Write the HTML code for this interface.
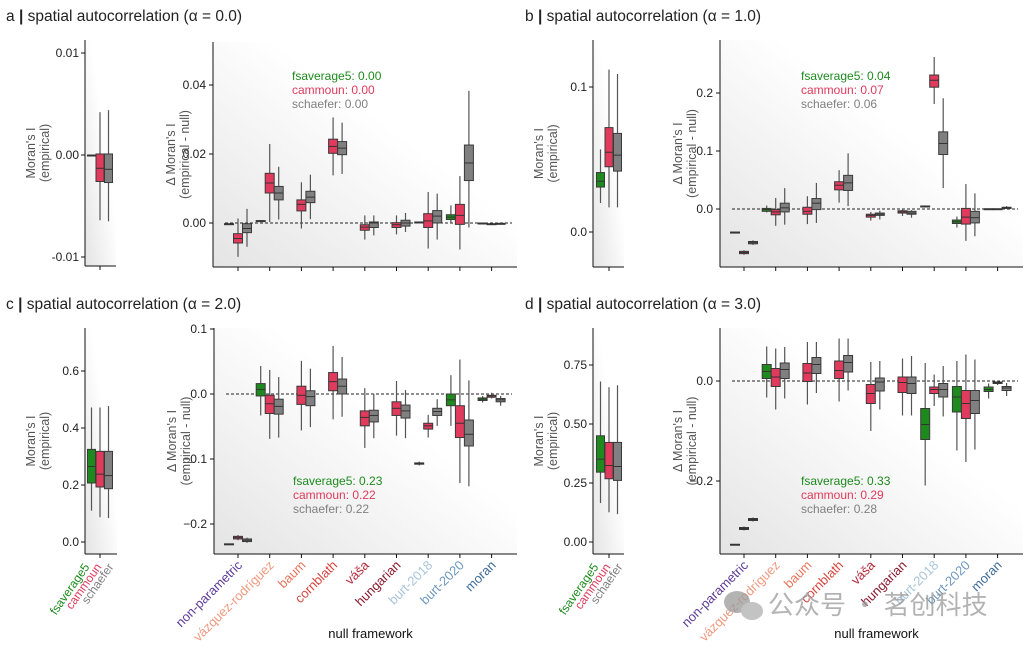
<!DOCTYPE html>
<html><head><meta charset="utf-8"><style>
html,body{margin:0;padding:0;background:#fff;}
svg{display:block;font-family:"Liberation Sans","Noto Sans CJK SC",sans-serif;}
</style></head><body>
<svg id="fig" width="1032" height="648" viewBox="0 0 1032 648" xmlns="http://www.w3.org/2000/svg">
<defs>
<linearGradient id="bg" x1="0" y1="1" x2="1" y2="0">
<stop offset="0" stop-color="#e4e4e4"/><stop offset="0.6" stop-color="#ffffff"/>
</linearGradient>
</defs>
<g id="layer"></g>
<g opacity="0.75">
<ellipse cx="737" cy="602" rx="13" ry="11" fill="#9a9a9a"/>
<ellipse cx="752" cy="611" rx="11" ry="9" fill="#b0b0b0"/>
<text x="768" y="614" font-size="26" fill="#9a9a9a" font-family="'Noto Sans CJK SC',sans-serif">公众号 · 茗创科技</text>
</g>
</svg>
<script>
const categories = ["non-parametric","vázquez-rodríguez","baum","cornblath","váša","hungarian","burt-2018","burt-2020","moran"];
const catColors = ["#5b3a97","#f09a80","#e8735a","#d6453d","#b5293b","#8b1a2e","#a8c4da","#6d98bf","#3d6a9a"];
const parcNames = ["fsaverage5","cammoun","schaefer"];
const parcColors = ["#1e8a1e","#e03a5c","#808080"];

// panel a (lo, q1, median, q3, hi)
const aFs = [[-.0004,-.0003,-.0003,-.0002,-.0002],[.0004,.0005,.0006,.0007,.0008],null,null,null,null,[0,.0001,.0002,.0003,.0004],[0,.001,.0017,.0024,.0051],[-.0001,0,0,0,.0001]];
const aCam = [[-.0098,-.0058,-.0045,-.0031,.0013],[.0003,.0087,.0116,.0144,.0229],[-.0016,.0035,.0054,.0067,.0118],[.0138,.0202,.0222,.0243,.0306],[-.0048,-.0021,-.0012,-.0005,.0022],[-.0033,-.0013,-.0005,.0001,.0022],[-.0074,-.0013,.0006,.0027,.009],[-.0077,-.0004,.0022,.0054,.0136],[-.0005,-.0004,-.0003,-.0002,-.0001]];
const aSch = [[-.0069,-.0028,-.0016,-.0002,.0041],[.001,.0067,.0087,.0106,.0163],[.0011,.0059,.0075,.0092,.014],[.0142,.0198,.0217,.0236,.0291],[-.0036,-.0013,0,.0003,.0022],[-.0026,-.0009,0,.0008,.0029],[-.0048,0,.002,.0036,.0085],[-.0013,.0123,.0174,.0226,.0383],[-.0004,-.0003,-.0002,-.0001,0]];
const aEmp = [[-.00015,-.0001,-.00005,0,.00005],[-.0064,-.0026,-.0013,.0001,.0042],[-.0065,-.0027,-.0014,.0001,.0044]];
// panel b
const bFs = [[-.0405,-.0402,-.040,-.0398,-.0395],[-.006,-.004,-.001,.001,.006],null,null,null,null,[.0045,.0048,.005,.0052,.0055],[-.032,-.025,-.022,-.019,-.013],[-.001,0,0,.0005,.001]];
const bCam = [[-.079,-.077,-.075,-.073,-.071],[-.029,-.010,-.005,-.001,.019],[-.026,-.009,-.004,.003,.022],[.011,.033,.041,.047,.067],[-.02,-.014,-.011,-.009,-.005],[-.012,-.007,-.005,-.003,0],[.181,.210,.222,.231,.262],[-.055,-.026,-.014,.001,.043],[-.001,-.0005,0,.0005,.001]];
const bSch = [[-.062,-.06,-.058,-.056,-.054],[-.027,-.005,.002,.010,.036],[-.024,-.001,.01,.018,.045],[.005,.032,.045,.058,.096],[-.018,-.011,-.009,-.007,-.003],[-.015,-.009,-.007,-.004,-.002],[.036,.094,.113,.133,.191],[-.047,-.024,-.015,-.004,.027],[0,.001,.002,.003,.005]];
const bEmp = [[.020,.031,.035,.041,.057],[.017,.045,.055,.072,.112],[.017,.042,.053,.068,.109]];
// panel c
const cFs = [[-.232,-.2315,-.231,-.2305,-.230],[-.033,-.003,.007,.016,.043],null,null,null,null,[-.110,-.108,-.107,-.106,-.104],[-.049,-.018,-.009,0,.029],[-.013,-.010,-.008,-.006,-.003]];
const cCam = [[-.225,-.223,-.221,-.219,-.217],[-.069,-.030,-.015,-.002,.037],[-.056,-.016,-.002,.012,.051],[-.039,.005,.019,.033,.074],[-.083,-.049,-.036,-.026,.009],[-.064,-.033,-.022,-.012,.02],[-.067,-.054,-.049,-.045,-.032],[-.137,-.067,-.045,-.018,.053],[-.007,-.005,-.003,-.002,.002]];
const cSch = [[-.229,-.227,-.225,-.223,-.221],[-.067,-.031,-.019,-.008,.026],[-.051,-.018,-.004,.005,.039],[-.035,0,.012,.023,.057],[-.068,-.043,-.033,-.025,0],[-.068,-.037,-.026,-.017,.006],[-.049,-.033,-.027,-.022,-.008],[-.142,-.080,-.062,-.040,.021],[-.018,-.012,-.009,-.007,-.003]];
const cEmp = [[.110,.207,.265,.325,.472],[.087,.193,.238,.318,.472],[.084,.187,.233,.318,.477]];
// panel d
const dFs = [[-.328,-.3275,-.327,-.3265,-.326],[-.033,.005,.019,.033,.069],null,null,null,null,[-.209,-.117,-.087,-.055,.036],[-.139,-.062,-.032,-.011,.04],[-.035,-.021,-.017,-.012,-.005]];
const dCam = [[-.299,-.297,-.295,-.293,-.291],[-.057,-.011,.008,.025,.065],[-.047,-.001,.016,.035,.078],[-.041,.005,.021,.040,.085],[-.1,-.045,-.025,-.007,.038],[-.069,-.023,-.003,.008,.045],[-.05,-.025,-.017,-.012,.013],[-.162,-.075,-.045,-.019,.053],[-.008,-.005,-.003,-.002,.001]];
const dSch = [[-.281,-.279,-.277,-.275,-.273],[-.035,.005,.023,.036,.068],[-.024,.015,.033,.047,.078],[-.019,.018,.037,.051,.085],[-.057,-.02,-.002,.006,.04],[-.069,-.025,-.005,.008,.05],[-.071,-.032,-.017,-.005,.03],[-.137,-.065,-.039,-.019,.043],[-.03,-.019,-.014,-.011,-.004]];
const dEmp = [[.165,.296,.351,.45,.68],[.126,.268,.324,.422,.656],[.118,.261,.32,.422,.664]];

const aTicks = [0,0.02,0.04], aTickLabels = ["0.00","0.02","0.04"];
const aEmpTicks = [-0.01,0,0.01], aEmpTickLabels = ["-0.01","0.00","0.01"];
const bTicks = [0,0.1,0.2], bTickLabels = ["0.0","0.1","0.2"];
const bEmpTicks = [0,0.1], bEmpTickLabels = ["0.0","0.1"];
const cTicks = [-0.2,-0.1,0,0.1], cTickLabels = ["\u22120.2","\u22120.1","0.0","0.1"];
const cEmpTicks = [0,0.2,0.4,0.6], cEmpTickLabels = ["0.0","0.2","0.4","0.6"];
const dTicks = [-0.2,0], dTickLabels = ["\u22120.2","0.0"];
const dEmpTicks = [0,0.25,0.5,0.75], dEmpTickLabels = ["0.00","0.25","0.50","0.75"];
const aScores = ["0.00","0.00","0.00"], bScores = ["0.04","0.07","0.06"], cScores = ["0.23","0.22","0.22"], dScores = ["0.33","0.29","0.28"];

const NS = "http://www.w3.org/2000/svg";
const layer = document.getElementById("layer");
function mk(tag, attrs, parent, text){
  const e = document.createElementNS(NS, tag);
  for (const k in attrs) e.setAttribute(k, attrs[k]);
  if (text !== undefined) e.textContent = text;
  (parent || layer).appendChild(e);
  return e;
}
function linScale(v0, p0, v1, p1){ return v => p0 + (v - v0) * (p1 - p0) / (v1 - v0); }

function drawBox(g, cx, w, s, y, color, name){
  const grp = mk("g", {}, g);
  
  
  mk("line", {x1:cx, x2:cx, y1:y(s[0]), y2:y(s[4]), stroke:"#555", "stroke-width":1.2}, grp);
  const top = y(s[3]), bot = y(s[1]);
  mk("rect", {x:cx-w/2, y:top, width:w, height:Math.max(bot-top,1), fill:color, stroke:"#3a3a3a", "stroke-width":1}, grp);
  mk("line", {x1:cx-w/2, x2:cx+w/2, y1:y(s[2]), y2:y(s[2]), stroke:"#333", "stroke-width":1}, grp);
}

function panel(p){
  const g = mk("g", {});
  
  
  const t = mk("text", {x:p.titleX, y:p.titleY, "font-size":15.5, fill:"#222"}, g);
  
  
  mk("tspan", {}, t, p.id + " ");
  mk("tspan", {"font-weight":"bold"}, t, "|");
  mk("tspan", {}, t, " spatial autocorrelation (\u03b1 = " + p.alpha + ")");

  // small empirical plot
  const S = p.small;
  const ys = linScale(S.v0, S.p0, S.v1, S.p1);
  const bgS = mk("rect", {x:S.x0, y:S.top, width:S.x1-S.x0, height:S.bottom-S.top, fill:"url(#bg)"}, g);
  
  
  mk("line", {x1:S.x0, x2:S.x0, y1:S.top, y2:S.bottom, stroke:"#111"}, g);
  mk("line", {x1:S.x0, x2:S.x1, y1:S.bottom, y2:S.bottom, stroke:"#111"}, g);
  mk("line", {x1:S.tick, x2:S.tick, y1:S.bottom, y2:S.bottom+4, stroke:"#111"}, g);
  p.empTicks.forEach((v,i)=>{
    mk("line", {x1:S.x0-4, x2:S.x0, y1:ys(v), y2:ys(v), stroke:"#111"}, g);
    const tl = mk("text", {x:S.x0-6, y:ys(v)+4, "font-size":12, "text-anchor":"end", fill:"#222"}, g, p.empTickLabels[i]);
    
    
  });
  p.emp.forEach((s,j)=>{ if(s) drawBox(g, S.tick + (j-1)*8.5, 8, s, ys, parcColors[j], 'empirical-box-' + parcNames[j]); });
  const yl = mk("text", {transform:"translate("+(S.x0-50)+","+((S.top+S.bottom)/2)+") rotate(-90)", "font-size":12.5, "text-anchor":"middle", fill:"#555"}, g);
  
  
  mk("tspan", {x:0, dy:0}, yl, "Moran's I");
  mk("tspan", {x:0, dy:14}, yl, "(empirical)");
  if (p.showX) parcNames.forEach((n,j)=>{
    const xl = mk("text", {transform:"translate("+(S.tick-10+j*12)+","+(S.bottom+13)+") rotate(-55)", "font-size":12, "text-anchor":"end", fill:parcColors[j]}, g, n);
    
    
  });

  // big delta plot
  const B = p.big;
  const y = linScale(B.v0, B.p0, B.v1, B.p1);
  const xc = i => B.first + i * 31.7;
  const bgB = mk("rect", {x:B.x0, y:B.top, width:B.x1-B.x0, height:B.bottom-B.top, fill:"url(#bg)"}, g);
  
  
  mk("line", {x1:B.x0, x2:B.x0, y1:B.top, y2:B.bottom, stroke:"#111"}, g);
  mk("line", {x1:B.x0, x2:B.x1, y1:B.bottom, y2:B.bottom, stroke:"#111"}, g);
  p.ticks.forEach((v,i)=>{
    mk("line", {x1:B.x0-4, x2:B.x0, y1:y(v), y2:y(v), stroke:"#111"}, g);
    const tl = mk("text", {x:B.x0-7, y:y(v)+4, "font-size":12, "text-anchor":"end", fill:"#222"}, g, p.tickLabels[i]);
    
    
  });
  const zl = mk("line", {x1:B.x0+12, x2:B.x1-5, y1:y(0), y2:y(0), stroke:"#222", "stroke-dasharray":"3,2"}, g);
  
  
  categories.forEach((c,i)=>{
    mk("line", {x1:xc(i), x2:xc(i), y1:B.bottom, y2:B.bottom+4, stroke:"#111"}, g);
    if (p.showX) {
      const xl = mk("text", {transform:"translate("+(xc(i)+5)+","+(B.bottom+12)+") rotate(-45)", "font-size":13, "text-anchor":"end", fill:catColors[i]}, g, c);
      
      
    }
  });
  [p.fs, p.cam, p.sch].forEach((arr,j)=>{
    arr.forEach((s,i)=>{ if(s) drawBox(g, xc(i) + (j-1)*9, 9, s, y, parcColors[j], 'box-' + categories[i] + '-' + parcNames[j]); });
  });
  const yl2 = mk("text", {transform:"translate("+(B.x0-38)+","+((B.top+B.bottom)/2)+") rotate(-90)", "font-size":12.5, "text-anchor":"middle", fill:"#555"}, g);
  
  
  mk("tspan", {x:0, dy:0}, yl2, "\u0394 Moran's I");
  mk("tspan", {x:0, dy:14}, yl2, "(empirical - null)");
  if (p.showX) {
    const xt = mk("text", {x:(B.x0+B.x1)/2 + 5, y:638, "font-size":13, "text-anchor":"middle", fill:"#111"}, g, "null framework");
    
    
  }
  parcNames.forEach((n,j)=>{
    const at = mk("text", {x:p.annX, y:p.annY + j*14, "font-size":12, fill:parcColors[j]}, g, n + ": " + p.scores[j]);
    
    
  });
}

panel({id:"a", alpha:"0.0", titleX:6, titleY:21, showX:false,
  small:{x0:85, x1:116, top:40, bottom:266, tick:100, v0:0, p0:155, v1:0.01, p1:53},
  big:{x0:213, x1:517, top:42, bottom:267, first:238, v0:0, p0:223, v1:0.02, p1:154},
  empTicks:aEmpTicks, empTickLabels:aEmpTickLabels, ticks:aTicks, tickLabels:aTickLabels,
  emp:aEmp, fs:aFs, cam:aCam, sch:aSch, scores:aScores, annX:292, annY:80});
panel({id:"b", alpha:"1.0", titleX:525, titleY:21, showX:false,
  small:{x0:593, x1:624, top:40, bottom:267, tick:609, v0:0, p0:232, v1:0.1, p1:87},
  big:{x0:720, x1:1023, top:40, bottom:267, first:744, v0:0, p0:209, v1:0.1, p1:151},
  empTicks:bEmpTicks, empTickLabels:bEmpTickLabels, ticks:bTicks, tickLabels:bTickLabels,
  emp:bEmp, fs:bFs, cam:bCam, sch:bSch, scores:bScores, annX:801, annY:80});
panel({id:"c", alpha:"2.0", titleX:6, titleY:309, showX:true,
  small:{x0:85, x1:117, top:328, bottom:554, tick:100, v0:0, p0:542, v1:0.6, p1:371},
  big:{x0:214, x1:517, top:328, bottom:554, first:238, v0:0, p0:394, v1:0.1, p1:329},
  empTicks:cEmpTicks, empTickLabels:cEmpTickLabels, ticks:cTicks, tickLabels:cTickLabels,
  emp:cEmp, fs:cFs, cam:cCam, sch:cSch, scores:cScores, annX:293, annY:485});
panel({id:"d", alpha:"3.0", titleX:525, titleY:309, showX:true,
  small:{x0:593, x1:624, top:328, bottom:554, tick:609, v0:0, p0:542, v1:0.75, p1:365},
  big:{x0:720, x1:1023, top:328, bottom:554, first:744, v0:0, p0:381, v1:-0.2, p1:481},
  empTicks:dEmpTicks, empTickLabels:dEmpTickLabels, ticks:dTicks, tickLabels:dTickLabels,
  emp:dEmp, fs:dFs, cam:dCam, sch:dSch, scores:dScores, annX:801, annY:485});
</script>
</body></html>
